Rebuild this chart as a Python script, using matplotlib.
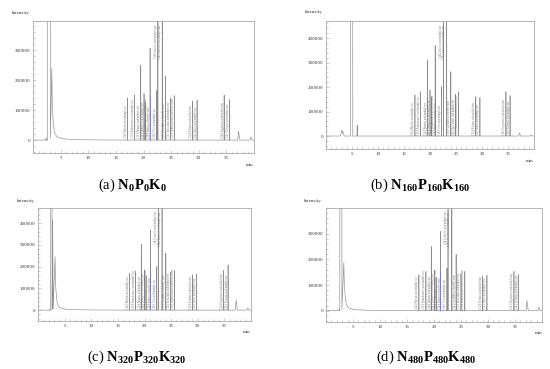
import matplotlib
matplotlib.use('Agg')
import matplotlib.pyplot as plt
from matplotlib.ticker import MultipleLocator

plt.rcParams['font.family'] = 'Liberation Serif'
plt.rcParams['mathtext.fontset'] = 'custom'
plt.rcParams['mathtext.rm'] = 'Liberation Serif'
plt.rcParams['mathtext.bf'] = 'Liberation Serif:bold'

W, H = 550, 369
OFF = 2e6  # off-scale peaks

fame_names = [
    'C14:0 Myristic acid methyl ester',
    'C15:0 Pentadecanoic acid methyl ester',
    'C16:0 Palmitic acid methyl ester',
    'C16:1 Palmitoleic acid methyl ester',
    'C17:0 Heptadecanoic acid methyl ester',
    'C18:0 Stearic acid methyl ester',
    'C18:1 Oleic acid methyl ester',
    'C18:2 Linoleic acid methyl ester',
    'C18:3 Linolenic acid methyl ester',
    'C20:0 Arachidic acid methyl ester',
    'C20:1 Eicosenoic acid methyl ester',
    'C21:0 Heneicosanoic acid methyl ester',
    'C22:0 Behenic acid methyl ester',
    'C22:1 Erucic acid methyl ester',
    'C24:0 Lignoceric acid methyl ester',
    'C24:1 Nervonic acid methyl ester',
]

# (a) N0P0K0
rt_a = [17.1, 18.4, 19.5, 20.1, 20.4, 21.2, 22.4, 22.6, 23.4, 24.0, 24.9, 25.6, 28.9, 29.7, 34.6, 35.6]
height_a = [141000, 150000, 250000, 155000, 125000, 306000, 165000, OFF, OFF, 213000,
            140000, 148000, 130000, 133000, 150000, 135000]
late_rt_a = [37.2, 39.4]
late_h_a = [30000, 10000]
solv_t_a = [0, 2.3, 2.35, 2.4, 2.65, 2.7, 3.1, 3.15, 3.4, 3.5, 3.7, 3.9, 4.3, 5, 6, 8, 10, 14, 16.5]
solv_y_a = [0, 0, 6000, 0, 0, OFF, OFF, 5000, 240000, 110000, 50000, 25000, 12000, 6000,
            3500, 1500, 800, 300, 0]
blue_a = (21.15, 150000)

# (b) N160P160K160
rt_b = [17.1, 18.2, 19.5, 20.0, 20.3, 21.0, 22.2, 22.6, 23.2, 24.0, 24.9, 25.5, 28.8, 29.6, 34.6, 35.4]
height_b = [168000, 181000, 311000, 188000, 160000, 369000, 202000, OFF, OFF, 263000,
            171000, 181000, 161000, 157000, 181000, 165000]
late_rt_b = [37.2, 39.4]
late_h_b = [12000, 4000]
solv_t_b = [0, 2.7, 2.95, 3.05, 3.15, 3.25, 3.5, 4.7, 4.75, 5.1, 5.15, 5.95, 6.0, 6.05, 16.5]
solv_y_b = [0, 0, 15000, 25000, 12000, 18000, 0, 0, OFF, OFF, 0, 0, 45000, 0, 0]
blue_b = (21.05, 181000)

# (c) N320P320K320
rt_c = [17.2, 18.3, 19.4, 20.0, 20.3, 21.1, 22.3, 22.6, 23.3, 24.0, 24.9, 25.6, 29.0, 29.8, 34.8, 35.7]
height_c = [169000, 180000, 303000, 185000, 160000, 369000, 200000, OFF, OFF, 262000,
            174000, 182000, 162000, 165000, 182000, 208000]
late_rt_c = [37.2, 39.4]
late_h_c = [46000, 10000]
solv_t_c = [0, 2.2, 2.25, 2.3, 2.35, 2.4, 2.6, 2.65, 2.75, 2.85, 3.2, 3.3, 3.5, 3.7, 4.0, 4.5,
            5, 6, 8, 10, 14, 16.5]
solv_y_c = [0, 0, 5000, 0, 0, OFF, OFF, 5000, 415000, 5000, 246000, 120000, 50000, 25000,
            14000, 8000, 5000, 3000, 1500, 800, 300, 0]
blue_c = (21.05, 169000)

# (d) N480P480K480
rt_d = [17.2, 18.5, 19.5, 20.1, 20.4, 21.2, 22.4, 22.6, 23.3, 24.1, 25.0, 25.7, 29.0, 29.8, 34.8, 35.6]
height_d = [140000, 153000, 250000, 157000, 130000, 309000, 166000, OFF, OFF, 219000,
            144000, 153000, 135000, 138000, 153000, 140000]
late_rt_d = [37.2, 39.4]
late_h_d = [40000, 14000]
solv_t_d = [0, 2.4, 2.45, 2.5, 2.55, 2.6, 2.9, 2.95, 3.3, 3.4, 3.6, 3.8, 4.2, 5, 6, 8, 10, 14, 16.5]
solv_y_d = [0, 0, 5000, 0, 0, OFF, OFF, 5000, 187000, 100000, 45000, 22000, 11000, 5500,
            3200, 1500, 700, 300, 0]
blue_d = (21.15, 153000)

panels = [
    dict(rt=rt_a, h=height_a, lrt=late_rt_a, lh=late_h_a, st=solv_t_a, sy=solv_y_a, blue=blue_a,
         box=(33, 21, 254, 153), ylim=(-43000, 397000), yt=[0, 100000, 200000, 300000],
         inten=(12, 13), mn=(246, 165), cap=(132, 185), name=r'(a) $\mathbf{N_{0}P_{0}K_{0}}$'),
    dict(rt=rt_b, h=height_b, lrt=late_rt_b, lh=late_h_b, st=solv_t_b, sy=solv_y_b, blue=blue_b,
         box=(326, 21, 534, 149), ylim=(-53000, 470000), yt=[0, 100000, 200000, 300000, 400000],
         inten=(305, 12), mn=(526, 161), cap=(420, 185),
         name=r'(b) $\mathbf{N_{160}P_{160}K_{160}}$'),
    dict(rt=rt_c, h=height_c, lrt=late_rt_c, lh=late_h_c, st=solv_t_c, sy=solv_y_c, blue=blue_c,
         box=(38, 208, 251, 321), ylim=(-50000, 470000), yt=[0, 100000, 200000, 300000, 400000],
         inten=(17, 201), mn=(243, 332), cap=(137, 357),
         name=r'(c) $\mathbf{N_{320}P_{320}K_{320}}$'),
    dict(rt=rt_d, h=height_d, lrt=late_rt_d, lh=late_h_d, st=solv_t_d, sy=solv_y_d, blue=blue_d,
         box=(326, 208, 542, 322), ylim=(-44000, 400000), yt=[0, 100000, 200000, 300000],
         inten=(304, 201), mn=(535, 333), cap=(426, 357),
         name=r'(d) $\mathbf{N_{480}P_{480}K_{480}}$'),
]


def build_trace(st, sy, rts, hs, lrt, lh):
    t = list(st)
    y = list(sy)
    for r, h in zip(rts, hs):
        t += [r - 0.02, r, r + 0.02]
        y += [0, h, 0]
    for r, h in zip(lrt, lh):
        t += [r - 0.15, r, r + 0.25]
        y += [0, h, 0]
    t.append(40)
    y.append(0)
    return t, y


fig = plt.figure(figsize=(W / 100, H / 100), dpi=100)
frame = '#a8a8a8'
LBL_FS = 1.8
for p in panels:
    x0, y0, x1, y1 = p['box']
    ax = fig.add_axes([x0 / W, 1 - y1 / H, (x1 - x0) / W, (y1 - y0) / H])
    t, y = build_trace(p['st'], p['sy'], p['rt'], p['h'], p['lrt'], p['lh'])
    ax.plot(t, y, color='#8c8c8c', lw=0.45)
    bx, bh = p['blue']
    ax.vlines(bx, 0, bh, color='#7070ff', lw=0.4)
    top = p['ylim'][1]
    # label thickness in minutes (text box height in px / px per minute)
    lw_min = LBL_FS * 100 / 72 * 1.3 / ((x1 - x0) / 40)
    last_end = -1
    for r, h, name in zip(p['rt'], p['h'], fame_names):
        if h > top:
            ax.text(r - 0.06, top * 0.97, name, rotation=90, ha='right', va='top',
                    fontsize=LBL_FS, color='#6e6e6e')
            continue
        left = max(r - 0.06 - lw_min, last_end + 0.02)
        ax.text(left, 6000, name, rotation=90, ha='left', va='bottom',
                fontsize=LBL_FS, color='#6e6e6e')
        last_end = left + lw_min
    ax.set_xlim(0, 40)
    ax.set_ylim(*p['ylim'])
    ax.set_xticks([5, 10, 15, 20, 25, 30, 35])
    ax.xaxis.set_minor_locator(MultipleLocator(1))
    ax.set_yticks(p['yt'])
    ax.yaxis.set_minor_locator(MultipleLocator(20000))
    ax.tick_params(which='both', direction='in', colors=frame, labelcolor='#333333',
                   labelsize=3.6, width=0.4, pad=2)
    ax.tick_params(which='major', length=2.2)
    ax.tick_params(which='minor', length=1.2)
    for s in ax.spines.values():
        s.set_color(frame)
        s.set_linewidth(0.6)
    fig.text(p['inten'][0] / W, 1 - p['inten'][1] / H, 'Intensity', fontsize=3.6,
             color='#333333', ha='left', va='center')
    fig.text(p['mn'][0] / W, 1 - p['mn'][1] / H, 'min', fontsize=3.6,
             color='#333333', ha='left', va='center')
    fig.text(p['cap'][0] / W, 1 - p['cap'][1] / H, p['name'], fontsize=10.5,
             ha='center', va='center')

fig.savefig('out.png', dpi=100)
